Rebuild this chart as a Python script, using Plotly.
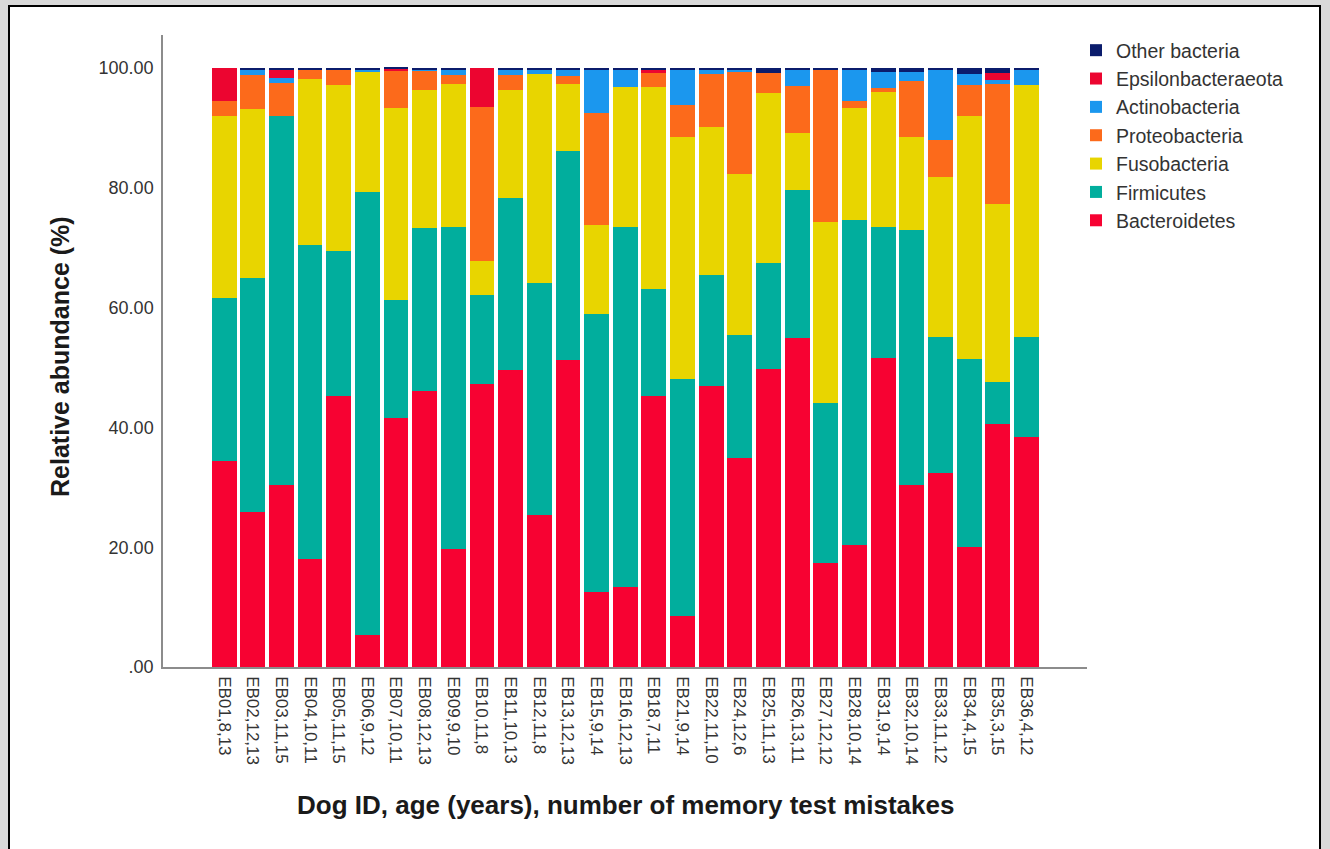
import plotly.graph_objects as go

dogs = ["EB01,8,13", "EB02,12,13", "EB03,11,15", "EB04,10,11", "EB05,11,15", "EB06,9,12",
        "EB07,10,11", "EB08,12,13", "EB09,9,10", "EB10,11,8", "EB11,10,13", "EB12,11,8",
        "EB13,12,13", "EB15,9,14", "EB16,12,13", "EB18,7,11", "EB21,9,14", "EB22,11,10",
        "EB24,12,6", "EB25,11,13", "EB26,13,11", "EB27,12,12", "EB28,10,14", "EB31,9,14",
        "EB32,10,14", "EB33,11,12", "EB34,4,15", "EB35,3,15", "EB36,4,12"]

bacteroidetes = [34.4, 25.8, 30.4, 18.0, 45.3, 5.3, 41.5, 46.1, 19.7, 47.2, 49.5, 25.4, 51.3, 12.5, 13.3,
                 45.3, 8.5, 46.9, 34.9, 49.7, 54.9, 17.4, 20.4, 51.5, 30.4, 32.4, 20.1, 40.5, 38.4]
firmicutes = [27.2, 39.1, 61.5, 52.5, 24.2, 74.0, 19.8, 27.1, 53.7, 14.9, 28.8, 38.7, 34.9, 46.4, 60.1,
              17.8, 39.5, 18.5, 20.5, 17.7, 24.7, 26.7, 54.3, 22.0, 42.6, 22.7, 31.3, 7.0, 16.7]
fusobacteria = [30.3, 28.2, 0.0, 27.6, 27.7, 20.1, 32.0, 23.1, 24.0, 5.6, 18.0, 34.9, 11.2, 14.9, 23.4,
                33.8, 40.4, 24.7, 26.9, 28.5, 9.6, 30.2, 18.6, 22.5, 15.4, 26.7, 40.5, 29.8, 42.1]
proteobacteria = [2.5, 5.7, 5.6, 1.7, 2.6, 0.0, 6.3, 3.3, 1.4, 25.8, 2.5, 0.0, 1.2, 18.7, 0.0,
                  2.2, 5.4, 8.9, 17.1, 3.3, 7.8, 25.4, 1.1, 0.6, 9.4, 6.2, 5.3, 20.1, 0.0]
actinobacteria = [0.0, 0.9, 0.9, 0.0, 0.0, 0.4, 0.0, 0.2, 1.0, 0.0, 1.0, 0.6, 1.2, 7.3, 3.0,
                  0.0, 6.0, 0.6, 0.2, 0.0, 2.8, 0.0, 5.4, 2.7, 1.6, 11.8, 1.8, 0.6, 2.6]
epsilonbacteraeota = [5.6, 0.0, 1.4, 0.0, 0.0, 0.0, 0.3, 0.0, 0.0, 6.5, 0.0, 0.0, 0.0, 0.0, 0.0,
                      0.6, 0.0, 0.0, 0.0, 0.0, 0.0, 0.0, 0.0, 0.0, 0.0, 0.0, 0.0, 1.2, 0.0]
other_bacteria = [0.0, 0.3, 0.2, 0.2, 0.2, 0.2, 0.1, 0.2, 0.2, 0.0, 0.2, 0.4, 0.2, 0.2, 0.2,
                  0.3, 0.2, 0.4, 0.4, 0.8, 0.2, 0.3, 0.2, 0.7, 0.6, 0.2, 1.0, 0.8, 0.2]

series = [
    ("Bacteroidetes", bacteroidetes, "#f70232"),
    ("Firmicutes", firmicutes, "#01ae9d"),
    ("Fusobacteria", fusobacteria, "#e8d500"),
    ("Proteobacteria", proteobacteria, "#fc6a1b"),
    ("Actinobacteria", actinobacteria, "#1b97ee"),
    ("Epsilonbacteraeota", epsilonbacteraeota, "#ec0530"),
    ("Other bacteria", other_bacteria, "#0b1c6c"),
]

yticks = [0, 20, 40, 60, 80, 100]
yticktext = [".00", "20.00", "40.00", "60.00", "80.00", "100.00"]

fig = go.Figure()
for name, vals, col in series:
    fig.add_trace(go.Bar(x=dogs, y=vals, name=name, marker=dict(color=col, line=dict(width=0)),
                         width=0.87))

W, H = 1330, 849
L, R, T, B = 163, 1087, 35, 667
pw, ph = R - L, B - T

def px(x):
    return (x - L) / pw

def py(y):
    return (B - y) / ph

fig.update_layout(
    width=W, height=H,
    margin=dict(l=L, r=W - R, t=T, b=H - B, pad=0),
    barmode="stack",
    paper_bgcolor="#d9d9d9",
    plot_bgcolor="rgba(0,0,0,0)",
    font=dict(family="Liberation Sans, Arial, sans-serif", color="#333333"),
    showlegend=True,
    legend=dict(traceorder="reversed", x=px(1076), y=py(31), xanchor="left", yanchor="top",
                font=dict(size=19.5, color="#333333"), bgcolor="rgba(0,0,0,0)",
                tracegroupgap=0),
    xaxis=dict(type="category", range=[-2.13, 30.11], showgrid=False, zeroline=False,
               showline=True, linecolor="#8c8c8c", linewidth=1.5, ticks="",
               tickangle=90, tickfont=dict(size=17, color="#333333"), ticklabelstandoff=4),
    yaxis=dict(range=[0, 105.5], showgrid=False, zeroline=False, showline=True,
               linecolor="#8c8c8c", linewidth=1.5, ticks="", tickvals=yticks, ticktext=yticktext,
               tickfont=dict(size=18, color="#333333"), ticklabelstandoff=4),
    shapes=[dict(type="rect", xref="paper", yref="paper", layer="below",
                 x0=px(9), x1=px(1320), y0=py(860), y1=py(6),
                 fillcolor="white", line=dict(color="black", width=2))],
    annotations=[
        dict(text="<b>Relative abundance (%)</b>", xref="paper", yref="paper",
             x=px(60), y=py(357), textangle=-90, showarrow=False,
             font=dict(size=25, color="#1a1a1a"), xanchor="center", yanchor="middle"),
        dict(text="<b>Dog ID, age (years), number of memory test mistakes</b>", xref="paper",
             yref="paper", x=px(625), y=py(805), showarrow=False,
             font=dict(size=26, color="#1a1a1a"), xanchor="center", yanchor="middle"),
    ],
)

fig.write_html("out.html", config={"displayModeBar": False},
               post_script="document.body.style.margin='0';document.body.style.background='#d9d9d9';")
